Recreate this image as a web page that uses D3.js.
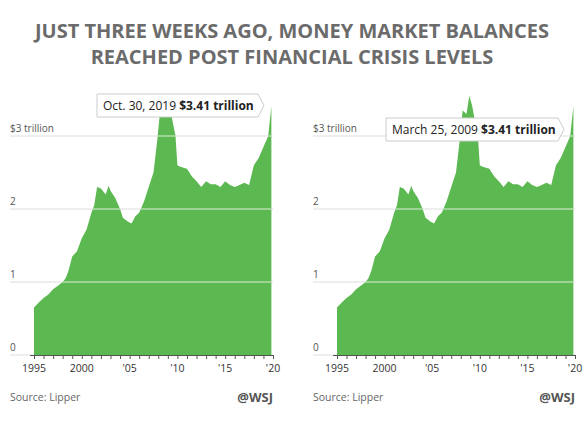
<!DOCTYPE html><html><head><meta charset="utf-8"><script src="https://cdn.jsdelivr.net/npm/d3@7"></script>
<style>body{margin:0;background:#fff}text{font-family:"Open Sans",sans-serif}</style></head><body><svg id="c" width="584" height="424"></svg>
<script>
const years=[1995,1995.5,1996,1996.5,1997,1997.5,1998,1998.3,1998.6,1999,1999.5,2000,2000.5,2001,2001.3,2001.6,2002,2002.5,2002.8,2003,2003.5,2004,2004.3,2004.8,2005.2,2005.6,2006,2006.5,2007,2007.5,2007.9,2008.2,2008.6,2008.9,2009.2,2009.5,2009.8,2010,2010.3,2011,2011.5,2012,2012.5,2013,2013.5,2014,2014.5,2015,2015.5,2016,2016.5,2017,2017.5,2018,2018.5,2019,2019.5,2019.83];
const values=[0.65,0.72,0.78,0.83,0.9,0.95,1.0,1.05,1.15,1.35,1.42,1.6,1.72,1.95,2.05,2.3,2.28,2.2,2.32,2.25,2.15,2.0,1.88,1.83,1.8,1.9,1.95,2.1,2.3,2.5,2.95,3.35,3.3,3.55,3.41,3.2,3.0,2.6,2.58,2.55,2.45,2.38,2.3,2.38,2.34,2.34,2.3,2.38,2.33,2.3,2.33,2.36,2.33,2.6,2.7,2.85,3.0,3.41];
const yTicks=[0,1,2,3];const yLabels=["0","1","2","$3 trillion"];
const xTicks=[1995,2000,2005,2010,2015,2020];const xLabels=["1995","2000","'05","'10","'15","'20"];
const tips=[{date:"Oct. 30, 2019",val:"$3.41 trillion"},{date:"March 25, 2009",val:"$3.41 trillion"}];
const svg=d3.select("#c");
svg.append("text").attr("x",292).attr("y",38).attr("text-anchor","middle").attr("font-size",20).attr("font-weight",700).attr("fill","#6b6b6b").text("JUST THREE WEEKS AGO, MONEY MARKET BALANCES");
svg.append("text").attr("x",292).attr("y",64).attr("text-anchor","middle").attr("font-size",20).attr("font-weight",700).attr("fill","#6b6b6b").text("REACHED POST FINANCIAL CRISIS LEVELS");
const data=years.map((y,i)=>({x:y,v:values[i]}));
[{x0:34,x1:273,left:10,tip:{x:97,y:94,w:161}},{x0:337,x1:575,left:313,tip:{x:386,y:118,w:172}}].forEach((p,pi)=>{
 const g=svg.append("g");
 const x=d3.scaleLinear().domain([1995,2020]).range([p.x0,p.x1]);
 const y=d3.scaleLinear().domain([0,3]).range([355,136]);
 yTicks.forEach((t,i)=>{g.append("line").attr("x1",p.left).attr("x2",p.x1).attr("y1",y(t)).attr("y2",y(t)).attr("stroke","#ddd");
  g.append("text").attr("x",p.left).attr("y",y(t)-4).attr("font-size",10).attr("fill","#555").text(yLabels[i]);});
 const area=d3.area().x(d=>x(d.x)).y0(y(0)).y1(d=>y(d.v)).curve(d3.curveLinear);
 g.append("path").attr("d",area(data)).attr("fill","#5cb851");
 g.append("clipPath").attr("id","cl"+pi).append("path").attr("d",area(data));
 yTicks.slice(1).forEach(t=>g.append("line").attr("clip-path","url(#cl"+pi+")").attr("x1",p.x0).attr("x2",p.x1).attr("y1",y(t)).attr("y2",y(t)).attr("stroke","#fff").attr("stroke-opacity",0.8));
 g.append("g").attr("transform","translate(0,355)").call(d3.axisBottom(x).tickValues(d3.range(1995,2021)).tickSize(4).tickFormat(""))
  .call(a=>{a.select(".domain").attr("stroke","#555").attr("d",`M${p.x0-4},0.5H${p.x1}`);a.selectAll("line").attr("stroke","#555");});
 xTicks.forEach((t,i)=>g.append("text").attr("x",x(t)).attr("y",372).attr("text-anchor","middle").attr("font-size",10.5).attr("fill","#333").text(xLabels[i]));
 g.append("text").attr("x",p.left).attr("y",401).attr("font-size",10.5).attr("fill","#666").text("Source: Lipper");
 g.append("text").attr("x",p.x1).attr("y",402).attr("text-anchor","end").attr("font-size",13).attr("font-weight",700).attr("fill","#555").text("@WSJ");
 const t=p.tip,tg=g.append("g");
 tg.append("path").attr("d",`M${t.x},${t.y}h${t.w}l6,11.5l-6,11.5h${-t.w}z`).attr("fill","#fff").attr("stroke","#ccc");
 const tx=tg.append("text").attr("x",t.x+6).attr("y",t.y+16).attr("font-size",12).attr("fill","#222");
 tx.append("tspan").text(tips[pi].date+"  ");tx.append("tspan").attr("font-weight",700).text(tips[pi].val);
});
</script></body></html>
